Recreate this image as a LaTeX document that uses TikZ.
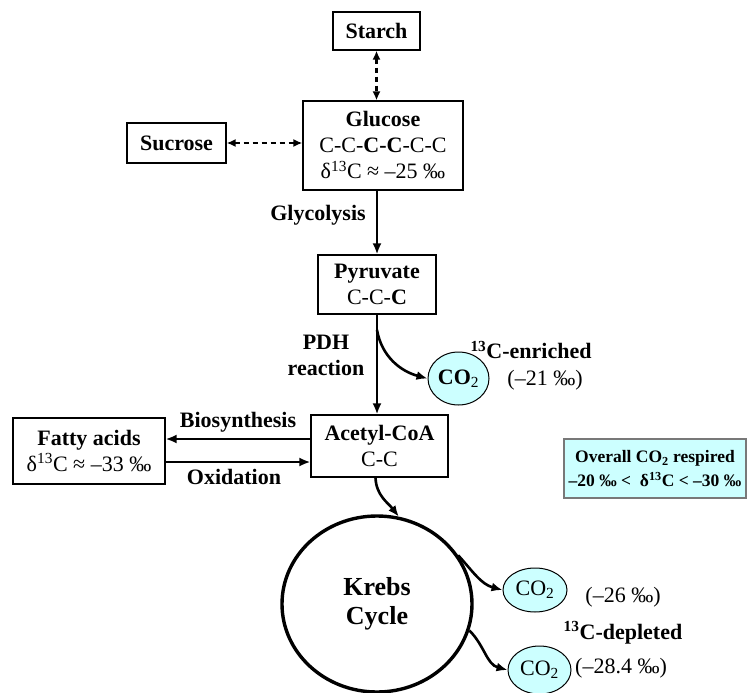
\documentclass[tikz,border=0pt]{standalone}
\usepackage{fontspec}
\setmainfont{Liberation Serif}
\usetikzlibrary{arrows.meta,shapes.geometric}
\definecolor{cyanfill}{RGB}{204,255,255}
\definecolor{boxgray}{RGB}{120,120,120}
\tikzset{
  fnt/.style={font=\fontsize{22}{26}\selectfont},
  boxnode/.style={draw=black,line width=1.2pt,fnt,align=center,inner sep=0pt},
  lbl/.style={fnt,font=\fontsize{22}{26}\selectfont\bfseries,align=center,inner sep=0pt},
  txt/.style={fnt,align=center,inner sep=0pt},
  co2/.style={ellipse,draw=black,line width=1pt,fill=cyanfill,fnt,inner sep=0pt},
  arr/.style={line width=2.6pt,-{Latex[length=11pt,width=9pt]}},
  darr/.style={line width=2.2pt,dash pattern=on 5pt off 4pt,{Latex[length=9pt,width=8pt]}-{Latex[length=9pt,width=8pt]}}
}
\begin{document}
\begin{tikzpicture}[x=1pt,y=-1pt]
\useasboundingbox (0,0) rectangle (750,693);
% boxes
\node[boxnode,minimum width=87pt,minimum height=38pt] (starch) at (376.5,31) {\bfseries Starch};
\node[boxnode,minimum width=160pt,minimum height=89pt] (glucose) at (383,145.5)
  {\bfseries Glucose\\C-C-\textbf{C-C}-C-C\\δ\textsuperscript{13}C ≈ –25 ‰};
\node[boxnode,minimum width=99pt,minimum height=40pt] (sucrose) at (176.5,143) {\bfseries Sucrose};
\node[boxnode,minimum width=118pt,minimum height=59pt] (pyruvate) at (377,284.5)
  {\bfseries Pyruvate\\C-C-\textbf{C}};
\node[boxnode,minimum width=137pt,minimum height=62pt] (acetyl) at (379.5,446)
  {\bfseries Acetyl-CoA\\C-C};
\node[boxnode,minimum width=152pt,minimum height=66pt] (fatty) at (89,451)
  {\bfseries Fatty acids\\δ\textsuperscript{13}C ≈ –33 ‰};
\node[draw=boxgray,line width=1.8pt,fill=cyanfill,minimum width=182pt,minimum height=59pt,
  inner sep=0pt,align=center,font=\fontsize{17.5}{24}\selectfont\bfseries] (overall) at (655,468.5)
  {Overall CO\textsubscript{2} respired\\–20 ‰ < \ δ\textsuperscript{13}C < –30 ‰};
\node[ellipse,draw=black,line width=3.4pt,minimum width=190pt,minimum height=176pt,inner sep=0pt,
  align=center,font=\fontsize{26}{29}\selectfont\bfseries] (krebs) at (377,604) {Krebs\\Cycle};
\node[co2,minimum width=61pt,minimum height=53pt] (co2a) at (458.5,378.5) {\textbf{CO}\textsubscript{2}};
\node[co2,minimum width=64pt,minimum height=44pt] (co2b) at (535,590) {CO\textsubscript{2}};
\node[co2,minimum width=63pt,minimum height=48pt] (co2c) at (539.5,670) {CO\textsubscript{2}};
% labels
\node[lbl] (glyco) at (318,215) {Glycolysis};
\node[lbl] (pdh) at (326,355) {PDH\\reaction};
\node[lbl] (enr) at (531,350) {\textsuperscript{13}C-enriched};
\node[txt] (v21) at (545,380) {(–21 ‰)};
\node[txt] (v26) at (623,597) {(–26 ‰)};
\node[lbl] (dep) at (623,633) {\textsuperscript{13}C-depleted};
\node[txt] (v284) at (621,668) {(–28.4 ‰)};
\node[lbl] (bios) at (238,422) {Biosynthesis};
\node[lbl] (oxid) at (234,477) {Oxidation};
% connectors
\draw[darr] (starch.south) -- (starch.south |- glucose.north);
\draw[darr] (sucrose.east) -- (sucrose.east -| glucose.west);
\draw[arr] (pyruvate.north |- glucose.south) -- (pyruvate.north);
\draw[arr] (pyruvate.south) -- (pyruvate.south |- acetyl.north);
\coordinate (pdhstart) at (377,330);
\draw[arr] (pdhstart) to[out=-80,in=165] (co2a.west);
\draw[arr] ([yshift=7pt]acetyl.west) -- ([yshift=7pt]acetyl.west -| fatty.east);
\draw[arr] ([yshift=-11pt]fatty.east) -- ([yshift=-11pt]fatty.east -| acetyl.west);
\draw[arr] ([xshift=-4pt]acetyl.south) to[out=-88,in=128] (krebs.76);
\draw[arr] (krebs.31) to[out=-48,in=165] (co2b.west);
\draw[arr] (krebs.-16) to[out=-45,in=165] (co2c.west);
\end{tikzpicture}
\end{document}
